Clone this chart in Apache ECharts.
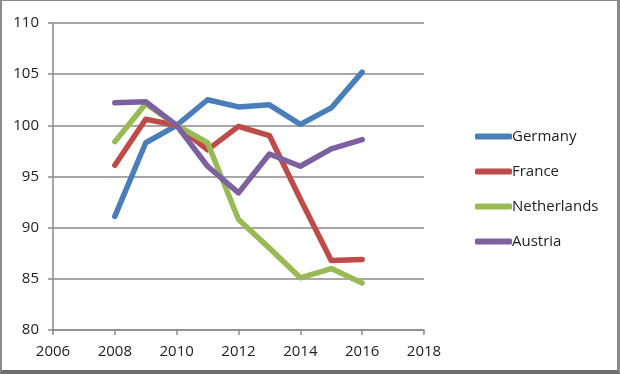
<!DOCTYPE html>
<html><head><meta charset="utf-8">
<script src="https://cdn.jsdelivr.net/npm/echarts@6/dist/echarts.min.js"></script>
<style>html,body{margin:0;padding:0;background:#fff}
#c{width:620px;height:374px;box-sizing:border-box;border:2px solid #8a8a8a;border-top-width:1px;border-right-width:3px;border-bottom-width:4px;border-bottom-color:#6e6e6e}</style>
</head><body><div id="c"></div>
<script>
const years = [2008,2009,2010,2011,2012,2013,2014,2015,2016];
const germany = [91.1,98.3,100,102.5,101.8,102.0,100.1,101.7,105.2];
const france = [96.1,100.6,100,97.6,99.9,99.0,92.8,86.8,86.9];
const netherlands = [98.4,102.1,100,98.3,90.8,88.0,85.1,86.0,84.6];
const austria = [102.2,102.3,100,96.0,93.4,97.2,96.0,97.7,98.6];
const names = ['Germany','France','Netherlands','Austria'];
const colors = ['#4a7ebb','#be4b48','#98b954','#7d60a0'];
const all = [germany,france,netherlands,austria];
const chart = echarts.init(document.getElementById('c'));
chart.setOption({
  animation:false,
  textStyle:{fontFamily:'Open Sans'},
  grid:{left:51,right:193,top:22,bottom:40},
  legend:{orient:'vertical',left:468,top:123,itemGap:20,itemWidth:37,itemHeight:6,icon:'roundRect',
    textStyle:{fontSize:15,color:'#222',fontFamily:'Open Sans',padding:[0,0,0,-5]},
    data:names},
  xAxis:{type:'value',min:2006,max:2018,interval:2,
    axisLine:{lineStyle:{color:'#8a8a8a',width:1.5}},
    axisTick:{show:true,length:5,lineStyle:{color:'#8a8a8a',width:1.5}},
    axisLabel:{color:'#222',fontSize:15,margin:14,formatter:v=>String(v)},
    splitLine:{show:false}},
  yAxis:{type:'value',min:80,max:110,interval:5,
    axisLine:{show:true,lineStyle:{color:'#8a8a8a',width:1.5}},
    axisTick:{show:true,length:5,lineStyle:{color:'#8a8a8a',width:1.5}},
    axisLabel:{color:'#222',fontSize:15,margin:14},
    splitLine:{lineStyle:{color:'#8a8a8a',width:1.5}}},
  series: all.map((d,i)=>({name:names[i],type:'line',symbol:'none',
    data:d.map((v,j)=>[years[j],v]),
    itemStyle:{color:colors[i]},
    lineStyle:{color:colors[i],width:5.5,cap:'round',join:'round'}}))
});
</script></body></html>
